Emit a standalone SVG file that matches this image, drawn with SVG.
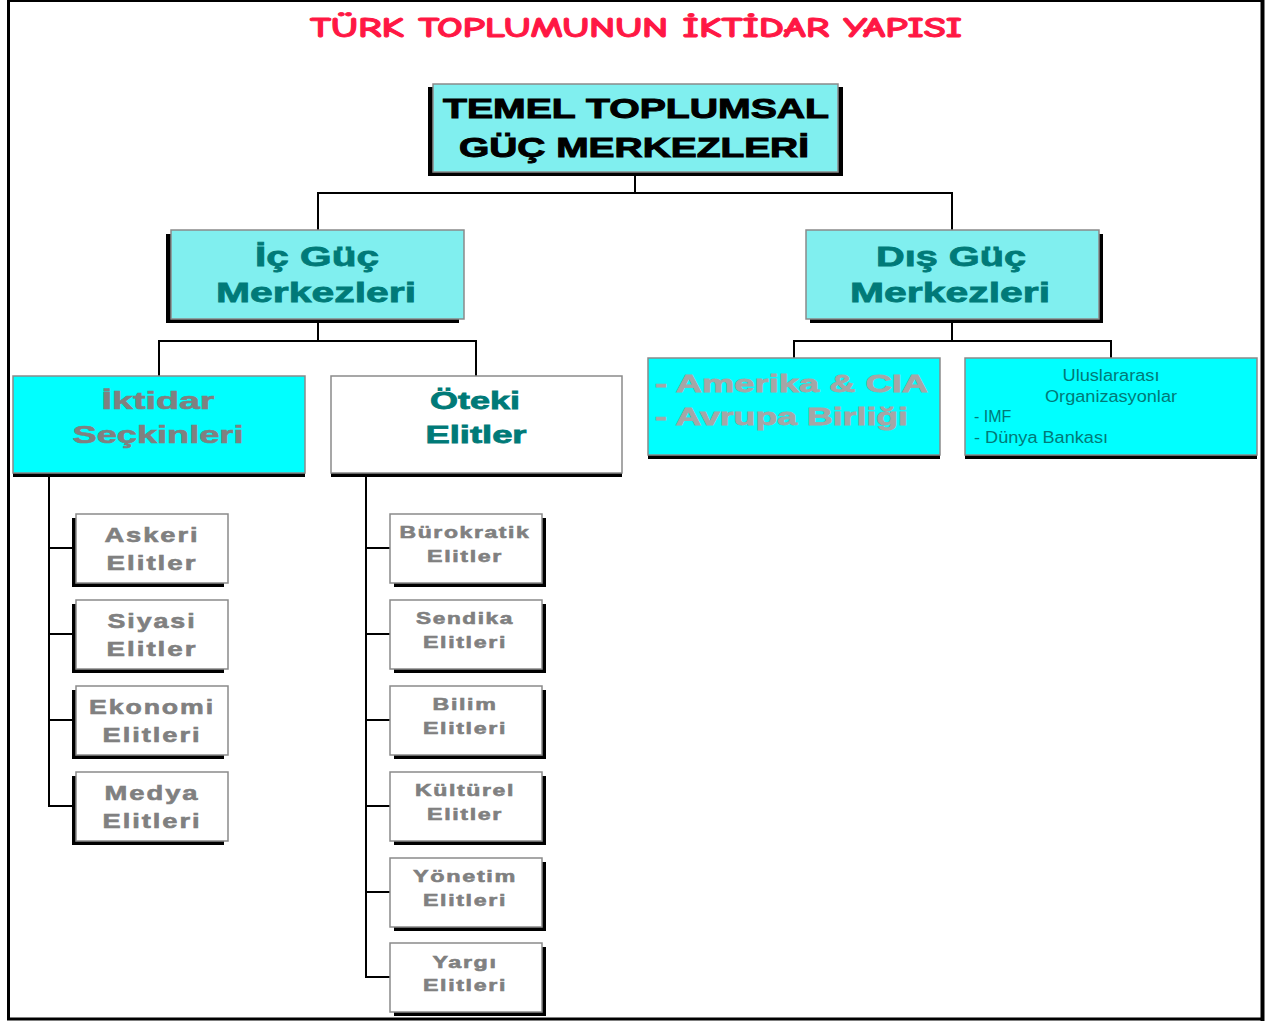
<svg xmlns="http://www.w3.org/2000/svg" width="1279" height="1021" viewBox="0 0 1279 1021">
<style>
.sh{fill:#000}
.c1{fill:#80EFEF;stroke:#8a8a8a;stroke-width:1.5}
.c2{fill:#00FFFF;stroke:#8a8a8a;stroke-width:1.5}
.w{fill:#fff;stroke:#8a8a8a;stroke-width:1.5}
.ln{stroke:#000;stroke-width:2;fill:none}
.hb{font-family:"Liberation Sans",Arial,sans-serif;font-weight:bold;text-anchor:middle}
.teal{fill:#007A78;stroke:#007A78;stroke-width:0.8}
.gray{fill:#808080;stroke:#808080;stroke-width:0.6}
.lg{fill:#A6A6A6;stroke:#A6A6A6;stroke-width:0.8}
.sm{font-size:21px;letter-spacing:1.5px}
.xs{font-size:17px;letter-spacing:1.2px}
</style>
<rect width="1279" height="1021" fill="#fff"/>
<!-- frame -->
<line x1="8" y1="1" x2="1263" y2="1" stroke="#000" stroke-width="2"/>
<line x1="8.5" y1="0" x2="8.5" y2="1020" stroke="#000" stroke-width="3"/>
<line x1="1262.5" y1="0" x2="1262.5" y2="1021" stroke="#000" stroke-width="4"/>
<line x1="7" y1="1019" x2="1264" y2="1019" stroke="#000" stroke-width="3"/>
<text x="636" y="37" text-anchor="middle" font-family="'Comic Neue','DejaVu Sans',sans-serif" font-weight="bold" font-size="28" fill="#FF1744" stroke="#FF1744" stroke-width="0.9" textLength="652" lengthAdjust="spacingAndGlyphs">TÜRK TOPLUMUNUN İKTİDAR YAPISI</text>

<g id="connectors">
<polyline class="ln" points="635,176 635,193"/>
<polyline class="ln" points="318,230 318,193 952,193 952,230"/>
<polyline class="ln" points="318,319 318,341"/>
<polyline class="ln" points="159,376 159,341 476,341 476,376"/>
<polyline class="ln" points="952,319 952,341"/>
<polyline class="ln" points="794,358 794,341 1111,341 1111,358"/>
<polyline class="ln" points="49,476 49,806"/>
<line class="ln" x1="48" y1="548" x2="75" y2="548"/>
<line class="ln" x1="48" y1="634" x2="75" y2="634"/>
<line class="ln" x1="48" y1="720" x2="75" y2="720"/>
<line class="ln" x1="48" y1="806" x2="75" y2="806"/>
<polyline class="ln" points="366,476 366,977"/>
<line class="ln" x1="365" y1="548" x2="390" y2="548"/>
<line class="ln" x1="365" y1="634" x2="390" y2="634"/>
<line class="ln" x1="365" y1="720" x2="390" y2="720"/>
<line class="ln" x1="365" y1="806" x2="390" y2="806"/>
<line class="ln" x1="365" y1="892" x2="390" y2="892"/>
<line class="ln" x1="365" y1="977" x2="390" y2="977"/>
</g>

<g id="temel">
<rect class="sh" x="428" y="87" width="415" height="89"/>
<rect class="c1" x="433" y="84" width="405" height="88"/>
<text class="hb" x="636" y="118" font-size="28" fill="#000" stroke="#000" stroke-width="1" textLength="386" lengthAdjust="spacingAndGlyphs">TEMEL TOPLUMSAL</text>
<text class="hb" x="634" y="157" font-size="28" fill="#000" stroke="#000" stroke-width="1" textLength="350" lengthAdjust="spacingAndGlyphs">GÜÇ MERKEZLERİ</text>
</g>

<g id="ic">
<rect class="sh" x="166" y="234" width="293" height="89"/>
<rect class="c1" x="171" y="230" width="293" height="89"/>
<text class="hb teal" x="317" y="266" font-size="28" textLength="124" lengthAdjust="spacingAndGlyphs">İç Güç</text>
<text class="hb teal" x="316" y="302" font-size="28" textLength="200" lengthAdjust="spacingAndGlyphs">Merkezleri</text>
</g>

<g id="dis">
<rect class="sh" x="810" y="234" width="293" height="89"/>
<rect class="c1" x="806" y="230" width="293" height="89"/>
<text class="hb teal" x="951" y="266" font-size="28" textLength="150" lengthAdjust="spacingAndGlyphs">Dış Güç</text>
<text class="hb teal" x="950" y="302" font-size="28" textLength="200" lengthAdjust="spacingAndGlyphs">Merkezleri</text>
</g>

<g id="iktidar">
<rect class="sh" x="13" y="380" width="292" height="97"/>
<rect class="c2" x="13" y="376" width="292" height="97"/>
<text class="hb gray" x="158" y="409" font-size="24" stroke-width="0.8" textLength="113" lengthAdjust="spacingAndGlyphs">İktidar</text>
<text class="hb gray" x="158" y="443" font-size="24" stroke-width="0.8" textLength="171" lengthAdjust="spacingAndGlyphs">Seçkinleri</text>
</g>

<g id="oteki">
<rect class="sh" x="331" y="380" width="291" height="97"/>
<rect class="w" x="331" y="376" width="291" height="97"/>
<text class="hb teal" x="475" y="409" font-size="24" textLength="90" lengthAdjust="spacingAndGlyphs">Öteki</text>
<text class="hb teal" x="476" y="443" font-size="24" textLength="101" lengthAdjust="spacingAndGlyphs">Elitler</text>
</g>

<g id="amerika">
<rect class="sh" x="648" y="362" width="292" height="97"/>
<rect class="c2" x="648" y="358" width="292" height="97"/>
<text class="hb lg" x="655" y="392" font-size="24" style="text-anchor:start" textLength="273" lengthAdjust="spacingAndGlyphs">- Amerika &amp; CIA</text>
<text class="hb lg" x="655" y="425" font-size="24" style="text-anchor:start" textLength="253" lengthAdjust="spacingAndGlyphs">- Avrupa Birliği</text>
</g>

<g id="uluslararasi">
<rect class="sh" x="965" y="362" width="292" height="97"/>
<rect class="c2" x="965" y="358" width="292" height="97"/>
<g font-family="'Liberation Sans',Arial,sans-serif" font-size="16" fill="#007A78">
<text x="1111" y="381" text-anchor="middle" textLength="97" lengthAdjust="spacingAndGlyphs">Uluslararası</text>
<text x="1111" y="402" text-anchor="middle" textLength="132" lengthAdjust="spacingAndGlyphs">Organizasyonlar</text>
<text x="974" y="422">- IMF</text>
<text x="974" y="443" textLength="134" lengthAdjust="spacingAndGlyphs">- Dünya Bankası</text>
</g>
</g>

<g id="askeri">
<rect class="sh" x="72" y="518" width="152" height="69"/>
<rect class="w" x="76" y="514" width="152" height="69"/>
<text class="hb gray sm" x="152" y="542" textLength="95" lengthAdjust="spacingAndGlyphs">Askeri</text>
<text class="hb gray sm" x="152" y="570" textLength="91" lengthAdjust="spacingAndGlyphs">Elitler</text>
</g>
<g id="siyasi">
<rect class="sh" x="72" y="604" width="152" height="69"/>
<rect class="w" x="76" y="600" width="152" height="69"/>
<text class="hb gray sm" x="152" y="628" textLength="89" lengthAdjust="spacingAndGlyphs">Siyasi</text>
<text class="hb gray sm" x="152" y="656" textLength="91" lengthAdjust="spacingAndGlyphs">Elitler</text>
</g>
<g id="ekonomi">
<rect class="sh" x="72" y="690" width="152" height="69"/>
<rect class="w" x="76" y="686" width="152" height="69"/>
<text class="hb gray sm" x="152" y="714" textLength="126" lengthAdjust="spacingAndGlyphs">Ekonomi</text>
<text class="hb gray sm" x="152" y="742" textLength="99" lengthAdjust="spacingAndGlyphs">Elitleri</text>
</g>
<g id="medya">
<rect class="sh" x="72" y="776" width="152" height="69"/>
<rect class="w" x="76" y="772" width="152" height="69"/>
<text class="hb gray sm" x="152" y="800" textLength="95" lengthAdjust="spacingAndGlyphs">Medya</text>
<text class="hb gray sm" x="152" y="828" textLength="99" lengthAdjust="spacingAndGlyphs">Elitleri</text>
</g>

<g id="burokratik">
<rect class="sh" x="394" y="518" width="152" height="69"/>
<rect class="w" x="390" y="514" width="152" height="69"/>
<text class="hb gray xs" x="465" y="538" textLength="131" lengthAdjust="spacingAndGlyphs">Bürokratik</text>
<text class="hb gray xs" x="465" y="562" textLength="76" lengthAdjust="spacingAndGlyphs">Elitler</text>
</g>
<g id="sendika">
<rect class="sh" x="394" y="604" width="152" height="69"/>
<rect class="w" x="390" y="600" width="152" height="69"/>
<text class="hb gray xs" x="465" y="624" textLength="98" lengthAdjust="spacingAndGlyphs">Sendika</text>
<text class="hb gray xs" x="465" y="648" textLength="84" lengthAdjust="spacingAndGlyphs">Elitleri</text>
</g>
<g id="bilim">
<rect class="sh" x="394" y="690" width="152" height="69"/>
<rect class="w" x="390" y="686" width="152" height="69"/>
<text class="hb gray xs" x="465" y="710" textLength="65" lengthAdjust="spacingAndGlyphs">Bilim</text>
<text class="hb gray xs" x="465" y="734" textLength="84" lengthAdjust="spacingAndGlyphs">Elitleri</text>
</g>
<g id="kulturel">
<rect class="sh" x="394" y="776" width="152" height="69"/>
<rect class="w" x="390" y="772" width="152" height="69"/>
<text class="hb gray xs" x="465" y="796" textLength="100" lengthAdjust="spacingAndGlyphs">Kültürel</text>
<text class="hb gray xs" x="465" y="820" textLength="76" lengthAdjust="spacingAndGlyphs">Elitler</text>
</g>
<g id="yonetim">
<rect class="sh" x="394" y="862" width="152" height="69"/>
<rect class="w" x="390" y="858" width="152" height="69"/>
<text class="hb gray xs" x="465" y="882" textLength="104" lengthAdjust="spacingAndGlyphs">Yönetim</text>
<text class="hb gray xs" x="465" y="906" textLength="84" lengthAdjust="spacingAndGlyphs">Elitleri</text>
</g>
<g id="yargi">
<rect class="sh" x="394" y="947" width="152" height="69"/>
<rect class="w" x="390" y="943" width="152" height="69"/>
<text class="hb gray xs" x="465" y="968" textLength="65" lengthAdjust="spacingAndGlyphs">Yargı</text>
<text class="hb gray xs" x="465" y="991" textLength="84" lengthAdjust="spacingAndGlyphs">Elitleri</text>
</g>
</svg>
